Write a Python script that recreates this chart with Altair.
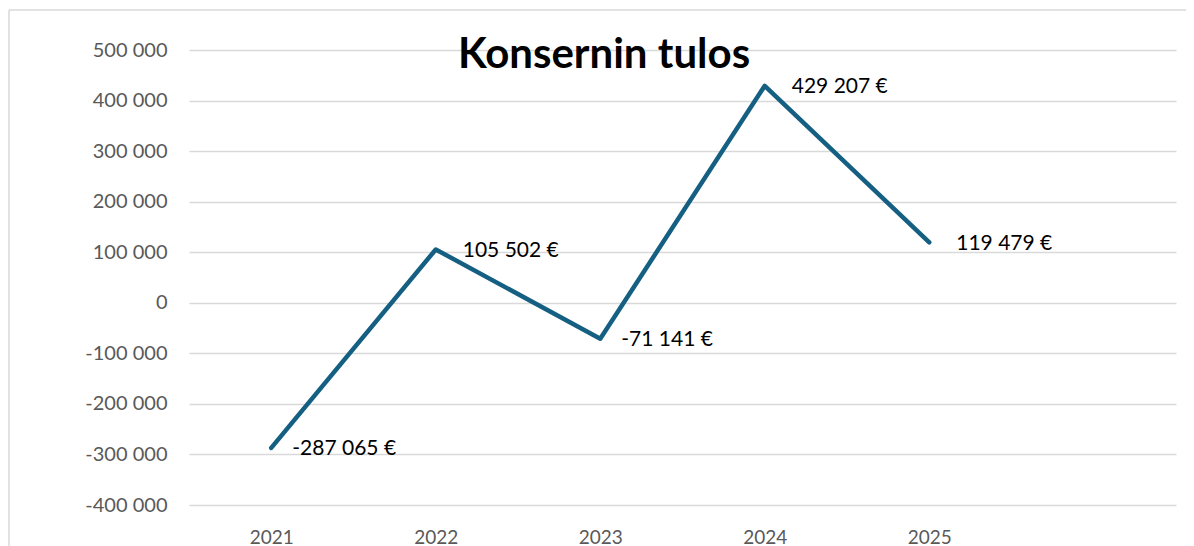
import altair as alt
import pandas as pd

# ---- data ----
years = [2021, 2022, 2023, 2024, 2025]
values = [-287065, 105502, -71141, 429207, 119479]
value_labels = ["-287 065 €", "105 502 €", "-71 141 €", "429 207 €", "119 479 €"]
y_ticks = [-400000, -300000, -200000, -100000, 0, 100000, 200000, 300000, 400000, 500000]
title_text = "Konsernin tulos"

df = pd.DataFrame({"year": years, "value": values, "label": value_labels})

W, H = 987, 455
LINE = "#156082"
GRID = "#d9d9d9"
FONT = "Lato"

x_enc = alt.X(
    "year:Q",
    scale=alt.Scale(domain=[2020.5, 2026.5], nice=False, zero=False),
    axis=alt.Axis(values=years, format="d", grid=False, domain=False, ticks=False,
                  labelFont=FONT, labelFontSize=19, labelColor="#595959",
                  labelPadding=23, title=None),
)
y_enc = alt.Y(
    "value:Q",
    scale=alt.Scale(domain=[-400000, 500000], nice=False, zero=False),
    axis=alt.Axis(values=y_ticks,
                  labelExpr="replace(replace(format(datum.value, ','), regexp(',', 'g'), ' '), '−', '-')",
                  grid=True, gridColor=GRID, gridWidth=1.3, domain=False, ticks=False,
                  labelFont=FONT, labelFontSize=20, labelColor="#595959",
                  labelPadding=22, title=None),
)

base = alt.Chart(df)

# chart-area frame: left and top edges only are visible in the reference
frame_left = alt.Chart(pd.DataFrame({"a": [0]})).mark_rule(color=GRID, strokeWidth=1.5).encode(
    x=alt.value(-180), y=alt.value(-40), y2=alt.value(600)
)
frame_top = alt.Chart(pd.DataFrame({"a": [0]})).mark_rule(color=GRID, strokeWidth=1.5).encode(
    x=alt.value(-180), x2=alt.value(1100), y=alt.value(-40)
)

line = base.mark_line(color=LINE, strokeWidth=4.5, strokeCap="round", strokeJoin="round").encode(
    x=x_enc, y=y_enc
)

labels_neg = base.transform_filter("datum.value < 0").mark_text(
    align="left", baseline="alphabetic", dx=21, dy=7.5, font=FONT, fontSize=21, color="black"
).encode(x="year:Q", y="value:Q", text="label:N")

labels_pos = base.transform_filter("datum.value >= 0").mark_text(
    align="left", baseline="alphabetic", dx=27, dy=7.5, font=FONT, fontSize=21, color="black"
).encode(x="year:Q", y="value:Q", text="label:N")

title = alt.Chart(pd.DataFrame({"t": [title_text]})).mark_text(
    font=FONT, fontSize=42, fontWeight="bold", align="center", baseline="alphabetic", color="black"
).encode(text="t:N", x=alt.value(415), y=alt.value(18))

chart = alt.layer(frame_left, frame_top, line, labels_neg, labels_pos, title).properties(
    width=W, height=H,
    autosize=alt.AutoSizeParams(type="none"),
    padding={"left": 181, "top": 42, "right": 10, "bottom": 41},
).configure_view(strokeWidth=0)

chart.save("out.html", embed_options={"renderer": "svg", "actions": False})
